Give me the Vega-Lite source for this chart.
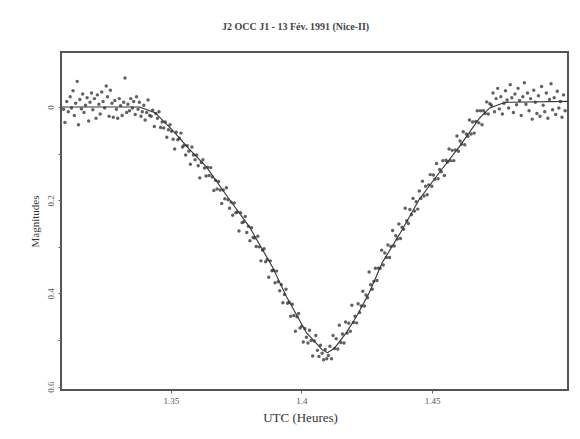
{
  "$schema": "https://vega.github.io/schema/vega-lite/v6.json",
  "width": 507,
  "height": 338,
  "autosize": {"type": "none"},
  "padding": {"left": 61, "top": 52, "right": 12, "bottom": 49},
  "background": "white",
  "config": {
    "font": "Liberation Serif",
    "view": {"stroke": "#555", "strokeWidth": 2},
    "axis": {"domain": false, "grid": false, "labelColor": "#555", "titleColor": "#333", "tickColor": "#666", "labelFont": "Liberation Serif", "titleFont": "Liberation Serif", "titleFontWeight": "normal"}
  },
  "title": {"text": "J2 OCC J1 - 13 Fév. 1991 (Nice-II)", "fontSize": 10, "font": "Liberation Serif", "fontWeight": "bold", "color": "#444", "offset": 20, "dx": -19},
  "datasets": {
    "obs": [
      {"t":1.3090,"m":0.005},{"t":1.3095,"m":0.033},{"t":1.3102,"m":-0.012},{"t":1.3108,"m":0.010},{"t":1.3115,"m":-0.022},{"t":1.3120,"m":0.002},{"t":1.3126,"m":-0.035},{"t":1.3131,"m":0.018},{"t":1.3136,"m":-0.008},{"t":1.3142,"m":-0.055},{"t":1.3147,"m":0.038},{"t":1.3152,"m":-0.016},{"t":1.3158,"m":0.004},{"t":1.3163,"m":-0.028},{"t":1.3168,"m":0.012},{"t":1.3174,"m":-0.004},{"t":1.3180,"m":-0.020},{"t":1.3186,"m":0.030},{"t":1.3191,"m":-0.010},{"t":1.3197,"m":-0.030},{"t":1.3202,"m":0.006},{"t":1.3208,"m":-0.018},{"t":1.3214,"m":0.024},{"t":1.3219,"m":-0.026},{"t":1.3225,"m":-0.006},{"t":1.3230,"m":0.015},{"t":1.3236,"m":-0.032},{"t":1.3241,"m":-0.012},{"t":1.3247,"m":0.002},{"t":1.3253,"m":-0.045},{"t":1.3258,"m":-0.022},{"t":1.3264,"m":0.020},{"t":1.3269,"m":-0.036},{"t":1.3275,"m":-0.008},{"t":1.3280,"m":0.022},{"t":1.3286,"m":-0.014},{"t":1.3292,"m":0.005},{"t":1.3297,"m":0.024},{"t":1.3303,"m":-0.018},{"t":1.3308,"m":-0.003},{"t":1.3314,"m":0.018},{"t":1.3320,"m":-0.010},{"t":1.3325,"m":-0.062},{"t":1.3331,"m":0.012},{"t":1.3336,"m":-0.006},{"t":1.3342,"m":0.008},{"t":1.3347,"m":-0.018},{"t":1.3353,"m":0.002},{"t":1.3358,"m":-0.012},{"t":1.3364,"m":0.016},{"t":1.3369,"m":-0.022},{"t":1.3375,"m":0.005},{"t":1.3380,"m":-0.010},{"t":1.3386,"m":0.020},{"t":1.3391,"m":0.010},{"t":1.3397,"m":-0.004},{"t":1.3402,"m":0.028},{"t":1.3408,"m":0.012},{"t":1.3413,"m":-0.015},{"t":1.3419,"m":0.018},
      {"t":1.3425,"m":0.020},{"t":1.3431,"m":0.007},{"t":1.3437,"m":0.042},{"t":1.3443,"m":0.014},{"t":1.3449,"m":0.024},{"t":1.3455,"m":0.010},{"t":1.3461,"m":0.044},{"t":1.3467,"m":0.032},{"t":1.3473,"m":0.045},{"t":1.3479,"m":0.032},{"t":1.3485,"m":0.065},{"t":1.3491,"m":0.049},{"t":1.3497,"m":0.038},{"t":1.3503,"m":0.052},{"t":1.3509,"m":0.069},{"t":1.3515,"m":0.090},{"t":1.3521,"m":0.054},{"t":1.3527,"m":0.070},{"t":1.3533,"m":0.067},{"t":1.3539,"m":0.056},{"t":1.3545,"m":0.086},{"t":1.3551,"m":0.082},{"t":1.3557,"m":0.103},{"t":1.3563,"m":0.083},{"t":1.3569,"m":0.095},{"t":1.3575,"m":0.123},{"t":1.3581,"m":0.086},{"t":1.3587,"m":0.103},{"t":1.3593,"m":0.113},{"t":1.3599,"m":0.103},{"t":1.3605,"m":0.126},{"t":1.3611,"m":0.152},{"t":1.3617,"m":0.119},{"t":1.3623,"m":0.113},{"t":1.3629,"m":0.131},{"t":1.3635,"m":0.148},{"t":1.3641,"m":0.129},{"t":1.3647,"m":0.147},{"t":1.3653,"m":0.130},{"t":1.3659,"m":0.150},{"t":1.3665,"m":0.179},{"t":1.3671,"m":0.157},{"t":1.3677,"m":0.176},{"t":1.3683,"m":0.160},{"t":1.3689,"m":0.178},{"t":1.3695,"m":0.207},{"t":1.3701,"m":0.178},{"t":1.3707,"m":0.197},{"t":1.3713,"m":0.173},{"t":1.3719,"m":0.199},{"t":1.3725,"m":0.217},{"t":1.3731,"m":0.204},{"t":1.3737,"m":0.232},{"t":1.3743,"m":0.206},{"t":1.3749,"m":0.227},{"t":1.3755,"m":0.225},{"t":1.3761,"m":0.266},{"t":1.3767,"m":0.227},{"t":1.3773,"m":0.248},{"t":1.3779,"m":0.246},{"t":1.3785,"m":0.235},{"t":1.3791,"m":0.269},{"t":1.3797,"m":0.256},{"t":1.3803,"m":0.287},{"t":1.3809,"m":0.259},{"t":1.3815,"m":0.280},{"t":1.3821,"m":0.281},{"t":1.3827,"m":0.299},{"t":1.3833,"m":0.277},{"t":1.3839,"m":0.300},{"t":1.3845,"m":0.330},{"t":1.3851,"m":0.307},{"t":1.3857,"m":0.304},{"t":1.3863,"m":0.332},{"t":1.3869,"m":0.327},{"t":1.3875,"m":0.365},{"t":1.3881,"m":0.330},{"t":1.3887,"m":0.351},{"t":1.3893,"m":0.350},{"t":1.3899,"m":0.377},{"t":1.3905,"m":0.352},{"t":1.3911,"m":0.375},{"t":1.3917,"m":0.394},{"t":1.3923,"m":0.381},{"t":1.3929,"m":0.420},{"t":1.3935,"m":0.402},{"t":1.3941,"m":0.391},{"t":1.3947,"m":0.421},{"t":1.3953,"m":0.419},{"t":1.3959,"m":0.449},{"t":1.3965,"m":0.423},{"t":1.3971,"m":0.447},{"t":1.3977,"m":0.481},{"t":1.3983,"m":0.450},{"t":1.3989,"m":0.443},{"t":1.3995,"m":0.474},{"t":1.4001,"m":0.470},{"t":1.4007,"m":0.504},{"t":1.4013,"m":0.475},{"t":1.4019,"m":0.494},{"t":1.4025,"m":0.506},{"t":1.4031,"m":0.479},{"t":1.4037,"m":0.501},{"t":1.4043,"m":0.534},{"t":1.4049,"m":0.502},{"t":1.4055,"m":0.490},{"t":1.4061,"m":0.522},{"t":1.4067,"m":0.535},{"t":1.4073,"m":0.511},{"t":1.4079,"m":0.528},{"t":1.4085,"m":0.542},{"t":1.4091,"m":0.520},{"t":1.4097,"m":0.540},{"t":1.4103,"m":0.533},{"t":1.4109,"m":0.513},{"t":1.4115,"m":0.540},{"t":1.4121,"m":0.490},{"t":1.4127,"m":0.518},{"t":1.4133,"m":0.497},{"t":1.4139,"m":0.519},{"t":1.4145,"m":0.468},{"t":1.4151,"m":0.505},{"t":1.4157,"m":0.487},{"t":1.4163,"m":0.506},{"t":1.4169,"m":0.461},{"t":1.4175,"m":0.485},{"t":1.4181,"m":0.464},{"t":1.4187,"m":0.481},{"t":1.4193,"m":0.425},{"t":1.4199,"m":0.462},{"t":1.4205,"m":0.449},{"t":1.4211,"m":0.463},{"t":1.4217,"m":0.422},{"t":1.4223,"m":0.441},{"t":1.4229,"m":0.427},{"t":1.4235,"m":0.395},{"t":1.4241,"m":0.427},{"t":1.4247,"m":0.403},{"t":1.4253,"m":0.409},{"t":1.4259,"m":0.354},{"t":1.4265,"m":0.381},{"t":1.4271,"m":0.391},{"t":1.4277,"m":0.374},{"t":1.4283,"m":0.346},{"t":1.4289,"m":0.372},{"t":1.4295,"m":0.346},{"t":1.4301,"m":0.346},{"t":1.4307,"m":0.307},{"t":1.4313,"m":0.339},{"t":1.4319,"m":0.313},{"t":1.4325,"m":0.323},{"t":1.4331,"m":0.296},{"t":1.4337,"m":0.323},{"t":1.4343,"m":0.299},{"t":1.4349,"m":0.265},{"t":1.4355,"m":0.298},{"t":1.4361,"m":0.276},{"t":1.4367,"m":0.283},{"t":1.4373,"m":0.251},{"t":1.4379,"m":0.282},{"t":1.4385,"m":0.258},{"t":1.4391,"m":0.262},{"t":1.4397,"m":0.217},{"t":1.4403,"m":0.244},{"t":1.4409,"m":0.250},{"t":1.4415,"m":0.220},{"t":1.4421,"m":0.231},{"t":1.4427,"m":0.196},{"t":1.4433,"m":0.223},{"t":1.4439,"m":0.203},{"t":1.4445,"m":0.219},{"t":1.4451,"m":0.180},{"t":1.4457,"m":0.196},{"t":1.4463,"m":0.159},{"t":1.4469,"m":0.191},{"t":1.4475,"m":0.170},{"t":1.4481,"m":0.188},{"t":1.4487,"m":0.167},{"t":1.4493,"m":0.145},{"t":1.4499,"m":0.170},{"t":1.4505,"m":0.146},{"t":1.4511,"m":0.155},{"t":1.4517,"m":0.121},{"t":1.4523,"m":0.154},{"t":1.4529,"m":0.134},{"t":1.4535,"m":0.139},{"t":1.4541,"m":0.115},{"t":1.4547,"m":0.147},{"t":1.4553,"m":0.114},{"t":1.4559,"m":0.118},{"t":1.4565,"m":0.090},{"t":1.4571,"m":0.115},{"t":1.4577,"m":0.093},{"t":1.4583,"m":0.115},{"t":1.4589,"m":0.092},{"t":1.4595,"m":0.062},{"t":1.4601,"m":0.095},{"t":1.4607,"m":0.073},{"t":1.4613,"m":0.080},{"t":1.4619,"m":0.053},{"t":1.4625,"m":0.081},{"t":1.4631,"m":0.058},{"t":1.4637,"m":0.063},{"t":1.4643,"m":0.028},{"t":1.4649,"m":0.058},{"t":1.4655,"m":0.032},{"t":1.4661,"m":0.056},{"t":1.4667,"m":0.031},{"t":1.4673,"m":0.008},{"t":1.4679,"m":0.034},{"t":1.4685,"m":0.008},{"t":1.4691,"m":0.038},{"t":1.4697,"m":0.008},{"t":1.4703,"m":0.014},{"t":1.4709,"m":-0.011},{"t":1.4715,"m":0.015},{"t":1.4721,"m":-0.007},
      {"t":1.4727,"m":-0.004},{"t":1.4733,"m":-0.030},{"t":1.4739,"m":0.010},{"t":1.4745,"m":-0.018},{"t":1.4751,"m":-0.040},{"t":1.4757,"m":0.004},{"t":1.4763,"m":-0.022},{"t":1.4769,"m":0.015},{"t":1.4775,"m":-0.008},{"t":1.4781,"m":-0.035},{"t":1.4787,"m":-0.015},{"t":1.4793,"m":0.002},{"t":1.4799,"m":-0.048},{"t":1.4805,"m":-0.020},{"t":1.4811,"m":0.012},{"t":1.4817,"m":-0.028},{"t":1.4823,"m":-0.005},{"t":1.4829,"m":-0.040},{"t":1.4835,"m":-0.014},{"t":1.4841,"m":0.018},{"t":1.4847,"m":-0.022},{"t":1.4853,"m":-0.052},{"t":1.4859,"m":-0.006},{"t":1.4865,"m":-0.030},{"t":1.4871,"m":0.008},{"t":1.4877,"m":-0.018},{"t":1.4883,"m":0.026},{"t":1.4889,"m":-0.036},{"t":1.4895,"m":-0.010},{"t":1.4901,"m":0.014},{"t":1.4907,"m":-0.024},{"t":1.4913,"m":0.020},{"t":1.4919,"m":-0.044},{"t":1.4925,"m":-0.004},{"t":1.4931,"m":0.010},{"t":1.4937,"m":-0.030},{"t":1.4943,"m":0.024},{"t":1.4949,"m":-0.016},{"t":1.4955,"m":-0.050},{"t":1.4961,"m":0.006},{"t":1.4967,"m":-0.020},{"t":1.4973,"m":0.016},{"t":1.4979,"m":-0.034},{"t":1.4985,"m":0.002},{"t":1.4991,"m":-0.012},{"t":1.4997,"m":0.022},{"t":1.5003,"m":-0.026},{"t":1.5009,"m":0.008}
    ],
    "fit": [
      {"t":1.308,"m":0},{"t":1.338,"m":0},{"t":1.344,"m":0.012},{"t":1.3507,"m":0.05},{"t":1.357,"m":0.09},{"t":1.3637,"m":0.129},{"t":1.3725,"m":0.199},{"t":1.3801,"m":0.257},{"t":1.3889,"m":0.343},{"t":1.3943,"m":0.407},{"t":1.4019,"m":0.484},{"t":1.408,"m":0.521},{"t":1.410,"m":0.527},{"t":1.4125,"m":0.518},{"t":1.4172,"m":0.484},{"t":1.421,"m":0.45},{"t":1.4259,"m":0.399},{"t":1.4309,"m":0.334},{"t":1.4385,"m":0.264},{"t":1.445,"m":0.199},{"t":1.4527,"m":0.141},{"t":1.4603,"m":0.086},{"t":1.4641,"m":0.056},{"t":1.468,"m":0.025},{"t":1.472,"m":0.002},{"t":1.478,"m":-0.01},{"t":1.502,"m":-0.012}
    ]
  },
  "encoding": {
    "x": {"field": "t", "type": "quantitative", "scale": {"domain": [1.308, 1.502], "nice": false, "zero": false},
      "axis": {"values": [1.35, 1.4, 1.45], "format": "~g", "title": "UTC (Heures)", "labelFontSize": 9, "titleFontSize": 13, "tickSize": 3, "labelPadding": 3, "titlePadding": 6, "titleX": 239}},
    "y": {"field": "m", "type": "quantitative", "scale": {"domain": [-0.118, 0.607], "nice": false, "zero": false, "reverse": true},
      "axis": {"values": [0, 0.1, 0.2, 0.3, 0.4, 0.5, 0.6], "format": "~g", "labelExpr": "round(datum.value*10) % 2 == 0 ? datum.label : ''", "labelAngle": -90, "labelFontSize": 9, "title": "Magnitudes", "titleFontSize": 11, "tickSize": 3, "labelPadding": 3, "titlePadding": 6}}
  },
  "layer": [
    {"data": {"name": "obs"}, "mark": {"type": "circle", "size": 12, "color": "#3a3a3a", "opacity": 0.8}},
    {"data": {"name": "fit"}, "mark": {"type": "line", "color": "#333", "strokeWidth": 1.1}}
  ]
}
